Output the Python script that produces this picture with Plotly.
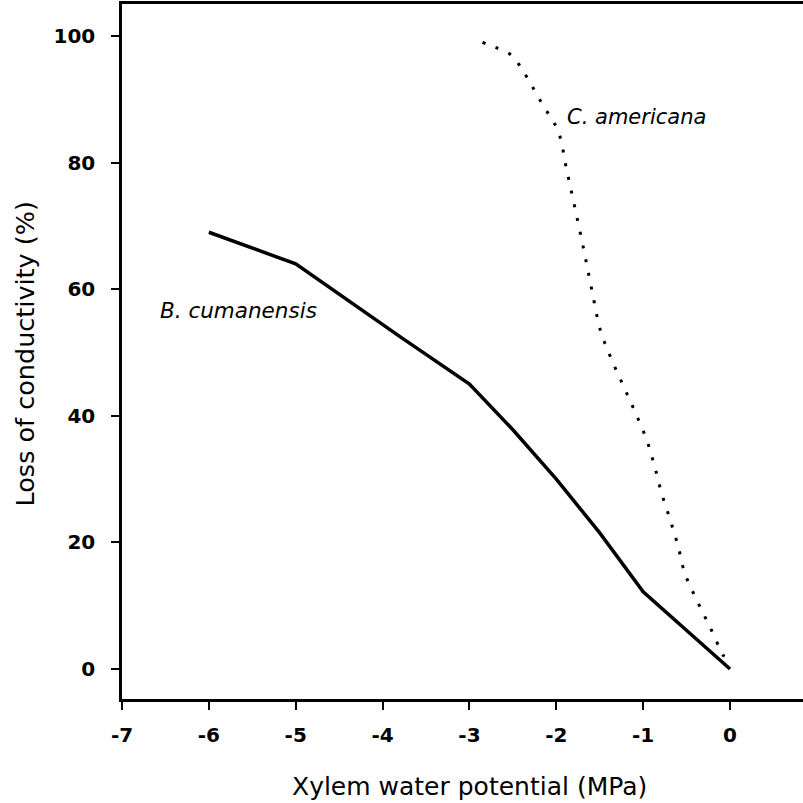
import plotly.graph_objects as go

# B. cumanensis (solid line)
b_x = [-6.0, -5.0, -3.8, -3.0, -2.5, -2.0, -1.5, -1.0, 0.0]
b_y = [69.0, 64.0, 52.5, 45.0, 37.8, 30.0, 21.5, 12.2, 0.0]

# C. americana (dotted line)
c_x = [-2.85, -2.70, -2.54, -2.43, -2.33, -2.16, -1.98, -1.88, -1.78, -1.68, -1.59,
       -1.49, -1.37, -1.23, -1.09, -0.96, -0.87, -0.79, -0.69, -0.60, -0.52, -0.38,
       -0.23, -0.08, 0.0]
c_y = [99.0, 98.2, 97.2, 95.5, 93.3, 89.2, 85.0, 78.8, 72.5, 66.0, 59.8,
       53.4, 49.1, 44.8, 40.5, 36.2, 32.1, 27.9, 23.6, 19.5, 15.1, 10.8,
       6.6, 2.2, 0.5]

x_ticks = [-7, -6, -5, -4, -3, -2, -1, 0]
y_ticks = [0, 20, 40, 60, 80, 100]

FONT = "DejaVu Sans"

fig = go.Figure()
fig.add_trace(go.Scatter(x=b_x, y=b_y, mode="lines",
                         line=dict(color="black", width=3.5), showlegend=False))
fig.add_trace(go.Scatter(x=c_x, y=c_y, mode="lines",
                         line=dict(color="black", width=3, dash="3px,11px", shape="spline"),
                         showlegend=False))

fig.add_annotation(x=-1.90, y=87.2, text="<i>C. americana</i>", showarrow=False,
                   xanchor="left", yanchor="middle",
                   font=dict(family=FONT, size=21, color="black"))
fig.add_annotation(x=-6.585, y=56.6, text="<i>B. cumanensis</i>", showarrow=False,
                   xanchor="left", yanchor="middle",
                   font=dict(family=FONT, size=21.5, color="black"))

# axis titles
fig.add_annotation(xref="paper", yref="paper", x=0.511, y=-0.1266,
                   text="Xylem water potential (MPa)", showarrow=False,
                   xanchor="center", yanchor="middle",
                   font=dict(family=FONT, size=25, color="black"))
fig.add_annotation(xref="paper", yref="paper", x=-0.1424, y=0.4957,
                   text="Loss of conductivity (%)", showarrow=False, textangle=-90,
                   xanchor="center", yanchor="middle",
                   font=dict(family=FONT, size=25.5, color="black"))

fig.update_layout(
    width=803, height=803,
    margin=dict(l=122, r=0, t=4, b=104),
    paper_bgcolor="white", plot_bgcolor="white",
    font=dict(family=FONT, color="black"),
)
fig.update_xaxes(
    range=[-7, 0.84], tickvals=x_ticks, ticktext=[str(v) for v in x_ticks],
    showgrid=False, zeroline=False, showline=True, linecolor="black", linewidth=2.5,
    mirror=True, ticks="outside", ticklen=8, tickwidth=2, tickcolor="black",
    tickfont=dict(family=FONT, size=20, weight="bold"),
    ticklabelstandoff=8,
)
fig.update_yaxes(
    range=[-4.74, 105.06], tickvals=y_ticks, ticktext=[str(v) for v in y_ticks],
    showgrid=False, zeroline=False, showline=True, linecolor="black", linewidth=2.5,
    ticks="outside", ticklen=8, tickwidth=2, tickcolor="black",
    tickfont=dict(family=FONT, size=20, weight="bold"),
    ticklabelstandoff=12,
)

fig.write_html("out.html")
